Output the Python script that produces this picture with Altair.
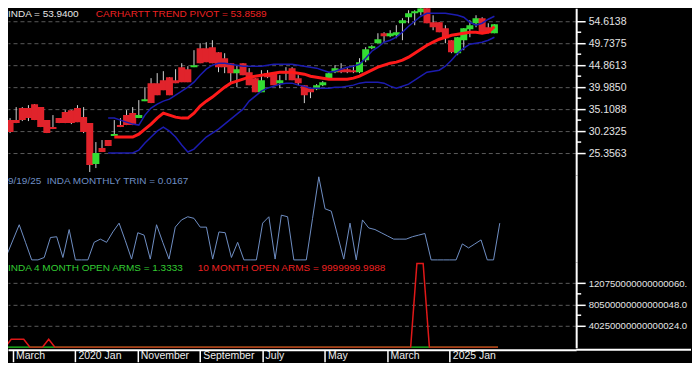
import altair as alt
import pandas as pd

# ---------------- data ----------------
# month index 0 = Feb 2019 ... 79 = Sep 2025
month_idx = list(range(80))
open_ = [32.67, 32.67, 35.33, 35.33, 36.21, 35.55, 32.67, 31.12, 33.11, 34.44,
         34.88, 35.33, 33.33, 32.00, 22.92, 26.46, 28.24, 29.12, 31.56, 33.78,
         34.22, 33.11, 36.88, 40.87, 40.87, 41.53, 42.20, 41.53, 44.42, 43.97,
         44.42, 48.63, 48.63, 48.85, 47.74, 46.41, 45.30, 43.09, 45.30, 43.31,
         41.98, 38.87, 43.09, 43.09, 40.87, 43.09, 44.20, 41.98, 40.43, 39.76,
         39.54, 40.43, 41.98, 43.31, 43.97, 43.97, 43.75, 43.31, 45.97, 48.63,
         49.74, 51.95, 51.29, 51.51, 54.17, 55.50, 56.39, 56.61, 58.16, 54.39,
         54.39, 53.06, 50.40, 47.52, 50.40, 52.84, 54.17, 55.28, 53.28, 51.95]
high = [33.11, 35.55, 35.55, 35.99, 36.21, 35.55, 32.67, 33.78, 33.11, 34.88,
        34.88, 35.99, 35.55, 32.00, 27.79, 28.24, 28.24, 32.67, 33.11, 34.88,
        35.55, 37.10, 39.98, 41.98, 43.09, 43.53, 42.20, 43.97, 45.30, 44.64,
        48.19, 49.74, 49.96, 50.40, 47.74, 47.52, 45.30, 44.86, 45.30, 44.20,
        41.98, 43.75, 43.75, 43.09, 42.64, 44.42, 44.42, 42.64, 40.43, 39.76,
        40.65, 41.31, 43.31, 44.86, 45.30, 44.20, 44.86, 46.41, 48.85, 49.29,
        51.95, 52.18, 52.62, 53.73, 55.28, 57.05, 57.05, 58.60, 58.16, 55.94,
        54.39, 53.73, 50.40, 51.07, 53.06, 54.84, 55.94, 55.50, 54.17, 53.94]
low = [29.79, 32.00, 32.45, 32.45, 32.67, 31.12, 29.79, 30.67, 32.00, 32.00,
       31.78, 32.22, 29.79, 21.14, 22.03, 25.58, 26.91, 29.12, 31.12, 31.56,
       31.56, 33.11, 36.88, 36.44, 38.21, 39.32, 38.21, 40.87, 41.09, 41.09,
       44.42, 45.30, 45.53, 45.30, 43.31, 43.09, 41.09, 39.98, 42.64, 40.43,
       38.87, 38.87, 41.98, 40.43, 39.76, 41.53, 41.53, 40.43, 36.44, 37.54,
       39.32, 40.20, 41.76, 43.09, 43.09, 43.09, 43.09, 43.09, 45.53, 48.41,
       49.74, 49.96, 51.07, 50.85, 50.40, 54.17, 53.73, 55.94, 54.17, 52.62,
       52.18, 49.74, 47.52, 47.08, 48.19, 51.07, 53.28, 51.95, 51.95, 51.95]
close = [30.01, 32.00, 32.67, 33.11, 32.67, 31.12, 29.79, 30.67, 32.00, 32.00,
         32.00, 32.22, 30.01, 22.69, 25.36, 25.58, 26.91, 29.56, 31.12, 31.56,
         31.56, 33.78, 37.32, 36.44, 38.21, 39.32, 38.21, 40.87, 41.09, 41.09,
         44.86, 45.30, 45.53, 45.30, 44.42, 44.42, 43.09, 43.97, 42.64, 40.43,
         38.87, 41.53, 42.20, 40.43, 41.53, 43.53, 41.53, 40.87, 38.21, 38.87,
         40.43, 41.09, 43.09, 44.20, 43.31, 43.31, 43.31, 45.53, 48.41, 49.07,
         50.62, 51.29, 51.95, 52.18, 54.84, 56.39, 56.83, 57.50, 54.17, 53.28,
         52.18, 50.85, 47.74, 51.07, 53.06, 53.73, 55.28, 51.95, 51.95, 53.94]

pivot_start = 17
pivot = [28.90, 28.90, 28.90, 28.90, 29.56, 30.67, 31.78, 33.11, 34.22, 33.78,
         33.33, 33.11, 33.11, 34.22, 35.77, 36.88, 37.77, 38.87, 39.98, 40.87,
         41.31, 41.76, 42.20, 42.42, 42.64, 42.86, 43.09, 43.31, 43.31, 43.31,
         43.09, 42.86, 42.42, 42.20, 41.98, 41.76, 41.76, 41.76, 41.76, 41.98,
         42.42, 43.09, 43.75, 44.42, 44.86, 45.30, 45.53, 45.97, 46.63, 47.52,
         48.41, 49.29, 49.96, 50.62, 51.07, 51.51, 51.73, 51.95, 52.18, 52.18,
         51.95, 52.18, 53.40]

band_start = 16
upper = [33.11, 33.11, 32.67, 32.22, 31.78, 31.56, 33.78, 35.33, 36.21, 36.88,
         37.32, 38.21, 39.10, 39.98, 41.09, 42.64, 43.97, 44.86, 45.30, 45.30,
         45.08, 44.86, 44.64, 44.64, 44.64, 44.64, 44.86, 45.08, 45.08, 45.08,
         45.08, 44.86, 44.64, 44.42, 44.20, 43.75, 43.31, 43.53, 43.97, 44.42,
         44.64, 45.08, 46.41, 47.96, 48.85, 49.96, 50.40, 51.07, 52.18, 53.51,
         54.61, 55.72, 56.39, 56.39, 56.39, 56.39, 56.17, 55.94, 55.50, 54.39,
         53.73, 54.17, 55.06, 55.72]
lower = [25.36, 25.36, 25.36, 25.36, 25.36, 26.02, 27.57, 28.90, 30.23, 31.12,
         30.23, 28.90, 27.13, 25.58, 26.24, 27.57, 28.90, 29.79, 30.67, 31.78,
         32.89, 34.00, 35.11, 36.88, 37.99, 39.10, 39.76, 40.20, 40.65, 40.87,
         40.87, 40.43, 40.20, 39.76, 39.76, 39.76, 39.76, 39.98, 39.98, 40.20,
         40.43, 40.87, 41.09, 41.09, 41.09, 40.87, 40.20, 39.76, 40.20, 40.65,
         41.53, 42.42, 43.31, 43.53, 43.75, 44.64, 45.97, 47.52, 48.63, 49.52,
         49.74, 49.96, 50.40, 51.07]

trin = [0.06, 0.25, 0.44, 0.22, 0.00, 0.00, 0.03, 0.28, 0.29, 0.03,
        0.38, 0.00, 0.00, 0.00, 0.22, 0.26, 0.22, 0.35, 0.46, 0.24,
        0.01, 0.34, 0.31, 0.01, 0.44, 0.22, 0.01, 0.41, 0.50, 0.54,
        0.52, 0.41, 0.41, 0.01, 0.35, 0.34, 0.03, 0.22, 0.00, 0.00,
        0.00, 0.46, 0.54, 0.01, 0.56, 0.54, 0.00, 0.00, 0.00, 0.52,
        1.04, 0.64, 0.61, 0.31, 0.01, 0.46, 0.00, 0.50, 0.40, 0.38,
        0.34, 0.30, 0.26, 0.26, 0.26, 0.29, 0.31, 0.33, 0.00, 0.00,
        0.00, 0.00, 0.00, 0.20, 0.15, 0.20, 0.25, 0.00, 0.00, 0.46]

arms10 = [1.2, 1.51e16, 1.51e16, 1.51e16, 1.0, 1.1, 0.9, 1.51e16, 1.3, 0.8,
          1.1, 1.4, 0.9, 1.6, 1.2, 0.7, 1.0, 1.3, 0.9, 1.1,
          0.8, 1.2, 1.5, 0.9, 1.0, 1.1, 0.8, 1.3, 1.2, 0.9,
          1.0, 1.4, 1.1, 0.9, 1.2, 1.0, 0.8, 1.3, 1.1, 1.5,
          1.2, 0.9, 1.0, 1.1, 0.8, 1.2, 1.4, 1.3, 1.6, 1.1,
          0.7, 0.9, 1.0, 1.2, 1.1, 0.9, 1.3, 0.8, 0.9, 1.0,
          1.1, 1.2, 0.9, 1.0, 1.1, 1.3, 1.578e17, 1.578e17, 1.2, 1.5,
          1.4, 1.1, 1.6, 0.9, 1.0, 1.2, 1.1, 1.3, 1.2, 9999999.9988]
arms4 = [1.1, 1.4, 0.8, 1.2, 1.0, 1.6, 0.7, 1.3, 1.2, 0.9,
         1.5, 1.1, 2.1, 1.8, 0.9, 0.6, 1.2, 1.4, 0.8, 1.3,
         0.7, 1.0, 1.9, 1.1, 0.8, 1.2, 0.9, 1.5, 1.3, 1.0,
         0.9, 1.6, 1.2, 0.8, 1.4, 1.1, 0.7, 1.5, 1.2, 1.8,
         1.4, 0.8, 0.9, 1.2, 0.7, 1.3, 1.6, 1.4, 1.9, 1.0,
         0.6, 0.8, 1.1, 1.3, 1.2, 0.9, 1.5, 0.7, 0.8, 0.9,
         1.2, 1.3, 0.8, 1.0, 1.1, 1.4, 1.2, 0.9, 1.5, 1.7,
         1.6, 1.2, 1.8, 0.8, 0.9, 1.1, 1.0, 1.4, 1.2, 1.3333]

x_label_months = [1, 11, 21, 31, 41, 51, 61, 71]
x_labels = ["March", "2020 Jan", "November", "September", "July", "May", "March", "2025 Jan"]
price_ticks = [25.3563, 30.2325, 35.1088, 39.9850, 44.8613, 49.7375, 54.6138]
arms_ticks = [4.025e16, 8.05e16, 1.2075e17]
arms_tick_labels = ["40250000000000024.0", "80500000000000048.0", "120750000000000060."]

price_title = "INDA = 53.9400"
pivot_title = "CARHARTT TREND PIVOT = 53.8589"
trin_title = "9/19/25\u00a0 INDA MONTHLY TRIN = 0.0167"
arms4_title = "INDA 4 MONTH OPEN ARMS = 1.3333"
arms10_title = "10 MONTH OPEN ARMS = 9999999.9988"

# ---------------- tables ----------------
candles = pd.DataFrame({"m": month_idx, "open": open_, "high": high, "low": low, "close": close})
candles["dir"] = ["up" if c >= o else "down" for o, c in zip(open_, close)]
pivot_df = pd.DataFrame({"m": month_idx[pivot_start:], "v": pivot})
band_df = pd.DataFrame({"m": month_idx[band_start:], "up": upper, "lo": lower})
trin_df = pd.DataFrame({"m": month_idx, "v": trin})
arms_df = pd.DataFrame({"m": month_idx, "a10": arms10, "a4": arms4})
price_minor = pd.DataFrame({"v": [(a + b) / 2 for a, b in zip(price_ticks[:-1], price_ticks[1:])]})
arms_minor = pd.DataFrame({"v": [(a + b) / 2 for a, b in zip(arms_ticks[:-1], arms_ticks[1:])]})

# ---------------- style ----------------
W = 569
H_PRICE, H_TRIN, H_ARMS = 167, 87, 86
TOTAL_W = 684
FONT = "Liberation Sans"
xs = alt.Scale(domain=[0.48, 91.52], nice=False, zero=False)
x_none = alt.X("m:Q", scale=xs, axis=None)

sep_vals = [m + 0.2 for m in x_label_months]
lab_arr = "[" + ",".join("'%s'" % s for s in x_labels) + "]"
x_bottom = alt.X(
    "m:Q", scale=xs, title=None,
    axis=alt.Axis(values=sep_vals, orient="bottom", offset=2, grid=False,
                  domainColor="white", domainWidth=2, tickColor="white", tickWidth=1.5,
                  tickSize=12, labelAlign="left", labelBaseline="middle", labelPadding=-6,
                  labelOffset=3, labelColor="#eeeeee", labelFontSize=10.5, labelFont=FONT,
                  labelOverlap=False, labelFlush=False, labelBound=False,
                  labelExpr=lab_arr + "[round((datum.value - %s) / 10)]" % sep_vals[0], title=None))

def right_axis(**kw):
    base = dict(orient="right", title=None, domainColor="white", domainWidth=2,
                tickColor="white", tickWidth=1.5, tickSize=9, labelColor="#e4e4e4",
                labelFontSize=10.5, labelFont=FONT, labelPadding=3,
                gridColor="#5a5a5a", gridDash=[4, 3], gridWidth=1, labelOverlap=False)
    base.update(kw)
    return alt.Axis(**base)

# ---------------- price panel ----------------
p_scale = alt.Scale(domain=[20.48, 57.495], nice=False, zero=False)
p_axis = right_axis(values=price_ticks, format=".4f", grid=True)

def py(field):
    return alt.Y(field, scale=p_scale, axis=p_axis, title=None)

wicks = alt.Chart(candles).mark_rule(color="#d4d4d4", strokeWidth=1, clip=True).encode(
    x=x_none, y=py("low:Q"), y2="high:Q")
bodies = alt.Chart(candles).mark_bar(size=7, clip=True).encode(
    x=x_none, y=py("open:Q"), y2="close:Q",
    color=alt.Color("dir:N", scale=alt.Scale(domain=["up", "down"], range=["#33dd33", "#e0232b"]), legend=None))
lo_line = alt.Chart(band_df).mark_line(color="#1c1cb0", strokeWidth=1.5, clip=True).encode(x=x_none, y=py("lo:Q"))
up_line = alt.Chart(band_df).mark_line(color="#1c1cb0", strokeWidth=1.5, clip=True).encode(x=x_none, y=py("up:Q"))
piv_line = alt.Chart(pivot_df).mark_line(color="#ff1a1a", strokeWidth=3, clip=True).encode(x=x_none, y=py("v:Q"))
p_minor = alt.Chart(price_minor).mark_rule(color="white", strokeWidth=1.5).encode(
    x=alt.value(W), x2=alt.value(W + 5), y=py("v:Q"))

def label(text, x, y, color, size=10):
    return alt.Chart(pd.DataFrame({"t": [text]})).mark_text(
        align="left", baseline="middle", font=FONT, fontSize=size, color=color
    ).encode(x=alt.value(x), y=alt.value(y), text="t:N")

price = alt.layer(
    wicks, bodies, lo_line, up_line, piv_line, p_minor,
    label(price_title, 0, 6, "#e8e8e8"), label(pivot_title, 88, 6, "#ee2222"),
).properties(width=W, height=H_PRICE)

# ---------------- TRIN panel ----------------
t_scale = alt.Scale(domain=[-0.025, 1.0625], nice=False, zero=False)
t_axis = right_axis(labels=False, ticks=False, grid=False)
trin_line = alt.Chart(trin_df).transform_calculate(mx="datum.m + 0.28").mark_line(
    color="#6f8fc4", strokeWidth=1, clip=True).encode(
    x=alt.X("mx:Q", scale=xs, axis=None), y=alt.Y("v:Q", scale=t_scale, axis=t_axis, title=None))
trin_panel = alt.layer(trin_line, label(trin_title, 0, 6, "#6f8fc4")).properties(width=W, height=H_TRIN)

# ---------------- Arms panel ----------------
a_scale = alt.Scale(domain=[-9.4e14, 1.6082e17], nice=False, zero=False)
a_expr = "datum.value > 1e17 ? '%s' : datum.value > 6e16 ? '%s' : '%s'" % (
    arms_tick_labels[2], arms_tick_labels[1], arms_tick_labels[0])
a_axis = right_axis(values=arms_ticks, grid=True, labelExpr=a_expr, labelFontSize=9.6)

def ay(field):
    return alt.Y(field, scale=a_scale, axis=a_axis, title=None)

g_line = alt.Chart(arms_df).mark_line(color="#22cc22", strokeWidth=1.5, clip=True).encode(x=x_bottom, y=ay("a4:Q"))
r_line = alt.Chart(arms_df).mark_line(color="#e01818", strokeWidth=1.5, clip=True).encode(x=x_bottom, y=ay("a10:Q"))
a_minor = alt.Chart(arms_minor).mark_rule(color="white", strokeWidth=1.5).encode(
    x=alt.value(W), x2=alt.value(W + 5), y=ay("v:Q"))
ext = alt.Chart(pd.DataFrame({"k": [0]})).mark_rule(color="white", strokeWidth=2).encode(
    x=alt.value(W), x2=alt.value(TOTAL_W), y=alt.value(H_ARMS + 2))
arms_panel = alt.layer(
    g_line, r_line, a_minor, ext,
    label(arms4_title, 0, 6, "#33cc33"), label(arms10_title, 190, 6, "#ee2222"),
).properties(width=W, height=H_ARMS)

chart = alt.vconcat(price, trin_panel, arms_panel, spacing=0, bounds="flush").properties(
    padding=0, background="black"
).configure_view(stroke=None)

chart.save("out.html", embed_options={"renderer": "svg", "actions": False})
